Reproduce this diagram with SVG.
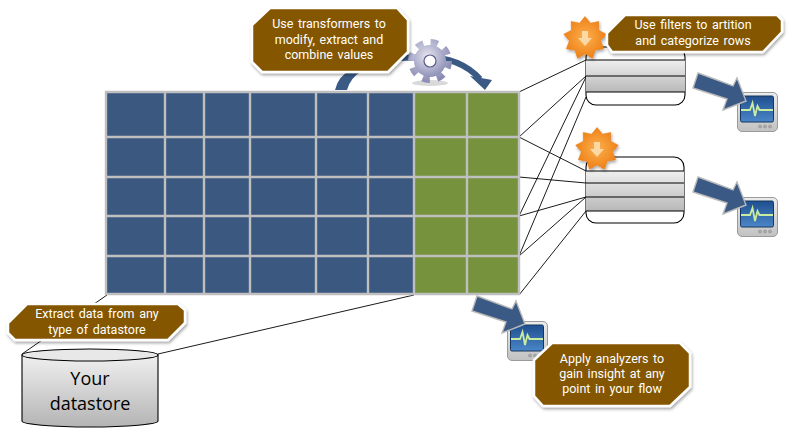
<svg xmlns="http://www.w3.org/2000/svg" xmlns:xlink="http://www.w3.org/1999/xlink" width="790" height="440" viewBox="0 0 790 440">
<style>
text{text-anchor:middle}
.ct{fill:#fff;font-family:Roboto,"Open Sans","Liberation Sans",sans-serif;font-size:12.5px;word-spacing:1.5px}
.ds{fill:#000;font-family:"Open Sans","Noto Sans","Liberation Sans",sans-serif;font-size:18px}
.co{fill:#845600;stroke:#fff;stroke-width:2.5;stroke-linejoin:round;filter:url(#sh)}
.wire{stroke:#000;stroke-width:.9;fill:none}
.rowline{stroke:#000;stroke-width:1.1;fill:none}
.blue{fill:#3a5880}.green{fill:#76923c}
.gl{stroke:#bfbfbf;stroke-width:2.4;fill:none}
.flow{fill:#3a5a85;stroke:none}
.ba{fill:#3a5a85;stroke:#b8b8b8;stroke-width:1.4;stroke-linejoin:miter}
</style>
<defs>
<filter id="sh" x="-10%" y="-15%" width="125%" height="135%"><feDropShadow dx="1" dy="2" stdDeviation="1.5" flood-color="#000" flood-opacity=".35"/></filter>
<linearGradient id="row1" gradientUnits="userSpaceOnUse" x1="0" y1="60" x2="0" y2="92"><stop offset="0" stop-color="#efefef"/><stop offset="1" stop-color="#b8b8b8"/></linearGradient>
<linearGradient id="row2" gradientUnits="userSpaceOnUse" x1="0" y1="171" x2="0" y2="211"><stop offset="0" stop-color="#efefef"/><stop offset="1" stop-color="#b8b8b8"/></linearGradient>
<linearGradient id="cyl" x1="0" y1="0" x2="0" y2="1"><stop offset="0" stop-color="#f0f0f0"/><stop offset="1" stop-color="#b4b4b4"/></linearGradient>
<radialGradient id="star" cx=".5" cy=".5" r=".55"><stop offset="0" stop-color="#fbb050"/><stop offset="1" stop-color="#ee7d12"/></radialGradient>
<radialGradient id="gear" cx=".42" cy=".35" r=".75"><stop offset="0" stop-color="#e6e6f0"/><stop offset="1" stop-color="#8486b0"/></radialGradient>
<linearGradient id="scr" x1="0" y1="0" x2="0" y2="1"><stop offset="0" stop-color="#1f4f8f"/><stop offset="1" stop-color="#4a86c8"/></linearGradient>
<linearGradient id="case" x1="0" y1="0" x2="0" y2="1"><stop offset="0" stop-color="#ececec"/><stop offset="1" stop-color="#c2c2c2"/></linearGradient>
<g id="starburst" filter="url(#sh)">
<polygon fill="url(#star)" stroke="#e87a14" stroke-width=".6" points="0,-21.500 5.400,-14.800 13.800,-16.500 13.500,-7.800 21.200,-3.800 15.500,2.700 18.600,10.700 10.100,12 7.400,20.200 0,15.700 -7.400,20.200 -10.100,12 -18.600,10.700 -15.500,2.700 -21.200,-3.800 -13.500,-7.800 -13.800,-16.500 -5.400,-14.800"/>
<polygon fill="#fbd9a4" points="-3,-7 3,-7 3,0 7,0 0,8 -7,0 -3,0"/>
</g>
<g id="monitor">
<rect x="0.5" y="0.5" width="40" height="39" rx="4.500" fill="url(#case)" stroke="#9a9a9a"/>
<rect x="3.500" y="4" width="33" height="26" rx="1.500" fill="url(#scr)" stroke="#17365d"/>
<path d="M4,18H13L15.500,11L18,24L20.500,14L22.500,18H36" fill="none" stroke="#c9eca0" stroke-width="1.800"/>
<circle cx="23" cy="34.500" r="1.500" fill="#aaa" stroke="#888" stroke-width=".5"/><circle cx="28" cy="34.500" r="1.500" fill="#aaa" stroke="#888" stroke-width=".5"/><circle cx="33" cy="34.500" r="1.500" fill="#aaa" stroke="#888" stroke-width=".5"/>
</g>
<polygon id="barrow" class="ba" points="0,-1 35,12 39,4 48,27 25,36 29,25 -5,14"/>
</defs>
<rect width="790" height="440" fill="#fff"/>

<g id="connectors">
<line class="wire" x1="519" y1="92" x2="586" y2="60"/>
<line class="wire" x1="519" y1="137" x2="586" y2="76"/>
<line class="wire" x1="519" y1="216" x2="586" y2="77"/>
<line class="wire" x1="519" y1="256" x2="586" y2="97"/>
<line class="wire" x1="519" y1="137" x2="586" y2="171"/>
<line class="wire" x1="519" y1="177" x2="586" y2="183"/>
<line class="wire" x1="519" y1="216" x2="586" y2="197"/>
<line class="wire" x1="519" y1="256" x2="586" y2="197"/>
<line class="wire" x1="519" y1="295" x2="586" y2="211"/>
<line class="wire" x1="107" y1="295" x2="22" y2="354"/>
<line class="wire" x1="414" y1="295" x2="158" y2="354"/>
</g>

<g id="table">
<rect class="blue" x="106" y="92" width="308" height="202"/>
<rect class="green" x="414" y="92" width="105" height="202"/>
<path class="gl" d="M106,92H519V294H106ZM106,137H519M106,177H519M106,216H519M106,256H519M165,92V294M204,92V294M250,92V294M316,92V294M368,92V294M414,92V294M467,92V294"/>
</g>

<g id="transform-flow">
<path class="flow" d="M335,90Q338,76 352,69L362,71Q350,78 347,90Z"/>
<path d="M400,58L425,57Q460,57 480,79" fill="none" stroke="#3a5a85" stroke-width="6"/>
<polygon class="flow" points="470,76 492,80 485,90"/>
</g>

<g id="gear-icon">
<ellipse cx="430" cy="83" rx="18" ry="3" fill="#000" opacity=".15"/>
<circle cx="430" cy="61" r="18.500" fill="none" stroke="url(#gear)" stroke-width="7" stroke-dasharray="7.3 7.23"/>
<circle cx="430" cy="61" r="16" fill="url(#gear)"/>
<circle cx="430" cy="61" r="6" fill="#fff" stroke="#5b5c8c" stroke-width="1.200"/>
</g>

<g id="filter-1">
<rect x="586" y="47" width="99" height="58" rx="10" fill="#fff" stroke="#000" stroke-width="1.100"/>
<rect x="586" y="60" width="99" height="32" fill="url(#row1)"/>
<path class="rowline" d="M586,60H685M586,76H685M586,92H685"/>
<use xlink:href="#starburst" href="#starburst" transform="translate(585,38)"/>
</g>

<g id="filter-2">
<rect x="586" y="157" width="98" height="66" rx="10" fill="#fff" stroke="#000" stroke-width="1.100"/>
<rect x="586" y="171" width="98" height="40" fill="url(#row2)"/>
<path class="rowline" d="M586,171H684M586,183H684M586,197H684M586,211H684"/>
<use xlink:href="#starburst" href="#starburst" transform="translate(597,149)"/>
</g>

<g id="analyzer-1">
<use xlink:href="#monitor" href="#monitor" x="737" y="92"/>
<use xlink:href="#barrow" href="#barrow" x="698" y="74"/>
</g>
<g id="analyzer-2">
<use xlink:href="#monitor" href="#monitor" x="737" y="197"/>
<use xlink:href="#barrow" href="#barrow" x="698" y="178"/>
</g>
<g id="analyzer-3">
<use xlink:href="#monitor" href="#monitor" x="507" y="321"/>
<use xlink:href="#barrow" href="#barrow" x="477" y="297"/>
</g>

<g id="datastore">
<path d="M22,355V421A68,6 0 0 0 158,421V355Z" fill="url(#cyl)" stroke="#000" stroke-width="1.100"/>
<ellipse cx="90" cy="355" rx="68" ry="6" fill="#e8e8e8" stroke="#000" stroke-width="1.100"/>
<text class="ds" x="90" y="385">Your</text>
<text class="ds" x="90" y="410">datastore</text>
</g>

<g id="callout-transformers">
<polygon class="co" points="270,8 397,8 408,20 408,52 388,72 262,72 252,62 252,25"/>
<text class="ct" x="329" y="28">Use transformers to</text>
<text class="ct" x="329" y="44">modify, extract and</text>
<text class="ct" x="329" y="59">combine values</text>
</g>
<g id="callout-filters">
<polygon class="co" points="625,15 777,15 782,20 782,32 763,52 612,52 607,45 607,33"/>
<text class="ct" x="693" y="29">Use filters to artition</text>
<text class="ct" x="693" y="45">and categorize rows</text>
</g>
<g id="callout-extract">
<polygon class="co" points="27,304 178,304 185,310 185,323 168,340 15,340 8,333 8,323"/>
<text class="ct" x="97" y="318">Extract data from any</text>
<text class="ct" x="97" y="334">type of datastore</text>
</g>
<g id="callout-analyzers">
<polygon class="co" points="552,343 680,343 690,353 690,387 670,406 543,406 534,396 534,360"/>
<text class="ct" x="612" y="363">Apply analyzers to</text>
<text class="ct" x="612" y="378">gain insight at any</text>
<text class="ct" x="612" y="393">point in your flow</text>
</g>
</svg>
